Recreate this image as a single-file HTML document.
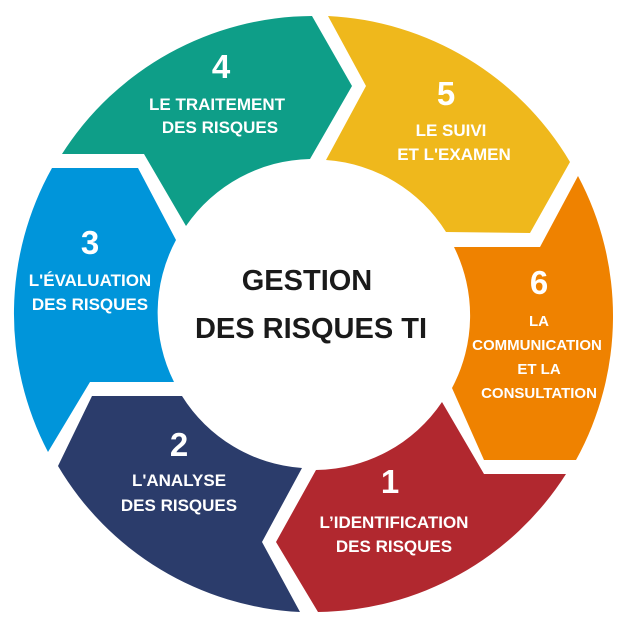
<!DOCTYPE html>
<html><head><meta charset="utf-8"><style>
html,body{margin:0;padding:0;background:#fff;}
svg{display:block;}
text{font-family:"Liberation Sans",Arial,sans-serif;font-weight:bold;text-anchor:middle;}
.n{font-size:33px;fill:#fff;}
.l{font-size:17px;fill:#fff;}
.s{font-size:15px;fill:#fff;}
.c{font-size:29px;fill:#1a1a1a;}
</style></head><body>
<svg width="627" height="627" viewBox="0 0 627 627" xmlns="http://www.w3.org/2000/svg">
<path fill="#0e9e88" d="M62,154 A298,298 0 0 1 312,16 L352,86 L310,159 A154,154 0 0 0 186,226 L144,154 Z"/>
<path fill="#efb81c" d="M328,16 A298,298 0 0 1 570,162 L530,233 L446,232 A154,154 0 0 0 326,160 L366,86 Z"/>
<path fill="#ef8200" d="M578,176 A298,298 0 0 1 576,460 L484,460 L452,388 A154,154 0 0 0 454,247 L540,247 Z"/>
<path fill="#b1282f" d="M566,474 A298,298 0 0 1 318,612 L276,542 L316,470 A154,154 0 0 0 442,402 L484,474 Z"/>
<path fill="#2b3c6b" d="M300,612 A298,298 0 0 1 58,466 L92,396 L182,396 A154,154 0 0 0 302,468 L262,542 Z"/>
<path fill="#0095da" d="M48,452 A298,298 0 0 1 52,168 L138,168 L176,240 A154,154 0 0 0 174,382 L90,382 Z"/>

<text class="n" x="221" y="78">4</text>
<text class="l" x="217" y="110">LE TRAITEMENT</text>
<text class="l" x="220" y="133">DES RISQUES</text>

<text class="n" x="446" y="105">5</text>
<text class="l" x="451" y="136">LE SUIVI</text>
<text class="l" x="454" y="160">ET L'EXAMEN</text>

<text class="n" x="90" y="254">3</text>
<text class="l" x="90" y="286">L'ÉVALUATION</text>
<text class="l" x="90" y="310">DES RISQUES</text>

<text class="n" x="539" y="294">6</text>
<text class="s" x="539" y="326">LA</text>
<text class="s" x="537" y="350">COMMUNICATION</text>
<text class="s" x="539" y="374">ET LA</text>
<text class="s" x="539" y="398">CONSULTATION</text>

<text class="n" x="179" y="456">2</text>
<text class="l" x="179" y="486">L'ANALYSE</text>
<text class="l" x="179" y="511">DES RISQUES</text>

<text class="n" x="390" y="493">1</text>
<text class="l" x="394" y="528">L’IDENTIFICATION</text>
<text class="l" x="394" y="552">DES RISQUES</text>

<text class="c" x="307" y="290">GESTION</text>
<text class="c" x="311" y="338">DES RISQUES TI</text>
</svg>
</body></html>
